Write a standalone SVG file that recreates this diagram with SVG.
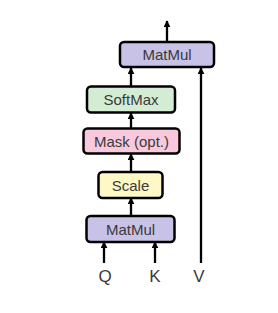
<svg xmlns="http://www.w3.org/2000/svg" width="278" height="313" viewBox="0 0 278 313">
<defs>
<marker id="ah" viewBox="0 0 10 10" refX="9" refY="5" markerWidth="7" markerHeight="7" orient="auto" markerUnits="userSpaceOnUse">
<path d="M0,0 L10,5 L0,10 Z" fill="#000"/>
</marker>
<style>
.box{stroke:#000;stroke-width:2.5}
.lbl{font-family:"Liberation Sans",Arial,sans-serif;font-size:15px;fill:#3a3a3a;text-anchor:middle}
.io{font-family:"Liberation Sans",Arial,sans-serif;font-size:17px;fill:#3a3a3a;text-anchor:middle}
.con{stroke:#000;stroke-width:2.3;fill:none;marker-end:url(#ah)}
</style>
</defs>
<rect width="278" height="313" fill="#fff"/>
<g id="connectors">
<line class="con" x1="167" y1="42" x2="167" y2="21"/>
<line class="con" x1="131" y1="86" x2="131" y2="68"/>
<line class="con" x1="131" y1="128" x2="131" y2="113"/>
<line class="con" x1="131" y1="172" x2="131" y2="154"/>
<line class="con" x1="131" y1="216" x2="131" y2="198"/>
<line class="con" x1="104" y1="263" x2="104" y2="242"/>
<line class="con" x1="155" y1="263" x2="155" y2="242"/>
<line class="con" x1="201" y1="263" x2="201" y2="68"/>
</g>
<g id="matmul-top">
<rect class="box" x="120" y="42" width="94" height="25" rx="4" fill="#c8c3e6"/>
<text class="lbl" x="167" y="60">MatMul</text>
</g>
<g id="softmax">
<rect class="box" x="87" y="86.5" width="88" height="26" rx="4" fill="#d4ecd3"/>
<text class="lbl" x="131" y="105">SoftMax</text>
</g>
<g id="mask">
<rect class="box" x="83.5" y="128.5" width="96" height="25" rx="4" fill="#f8c9dc"/>
<text class="lbl" x="131.5" y="146.5">Mask (opt.)</text>
</g>
<g id="scale">
<rect class="box" x="98.5" y="172" width="64" height="26" rx="4" fill="#fdf8c6"/>
<text class="lbl" x="130.5" y="190.5">Scale</text>
</g>
<g id="matmul-bottom">
<rect class="box" x="86.5" y="216" width="88" height="26" rx="4" fill="#c8c3e6"/>
<text class="lbl" x="130.5" y="234.5">MatMul</text>
</g>
<g id="inputs">
<text class="io" x="105" y="282">Q</text>
<text class="io" x="155" y="282">K</text>
<text class="io" x="199" y="282">V</text>
</g>
</svg>
